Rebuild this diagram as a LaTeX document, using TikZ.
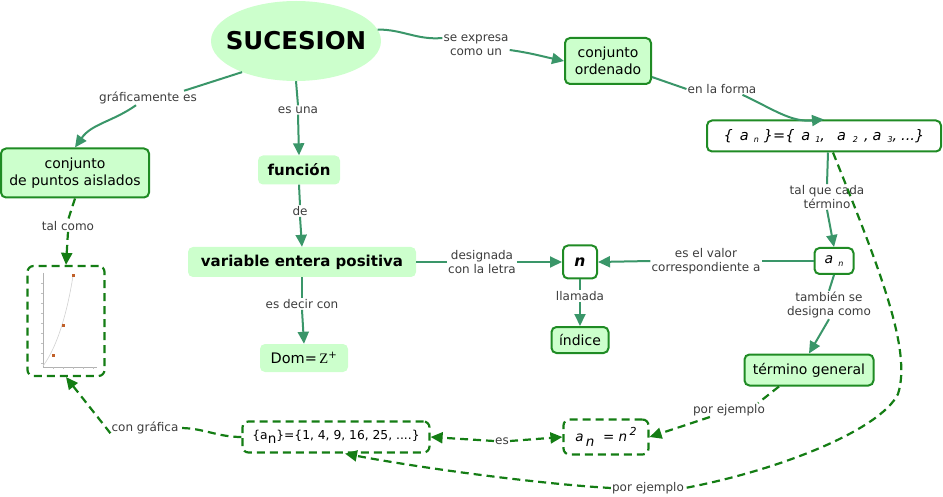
\documentclass[tikz,border=0pt]{standalone}
\usepackage{fontspec}
\setmainfont{DejaVu Sans}
\newfontfamily\serifz{Liberation Serif}
\usetikzlibrary{arrows.meta,shapes.geometric,calc}
\definecolor{lgreen}{HTML}{CCFFCC}
\definecolor{bgreen}{HTML}{1F8B24}
\definecolor{cgreen}{HTML}{3A9669}
\definecolor{dgreen}{HTML}{147D14}
\definecolor{lblc}{HTML}{3C3C3C}
\definecolor{ptc}{HTML}{C0602A}
\newcommand\sbs[1]{\raisebox{-0.35ex}{\fontsize{8}{8}\selectfont #1}}
\tikzset{
  concept/.style={rounded corners=5pt, fill=lgreen, align=center, inner sep=0pt,
    font=\fontsize{14}{17}\selectfont},
  bordered/.style={draw=bgreen, line width=2pt},
  whitebox/.style={concept, fill=white, draw=bgreen, line width=2pt},
  dashbox/.style={rounded corners=6pt, fill=white, draw=dgreen, line width=2.2pt,
    dash pattern=on 8pt off 5pt, align=center, inner sep=0pt},
  lbl/.style={font=\fontsize{12}{14}\selectfont, text=lblc, align=center, inner sep=1pt},
  conn/.style={draw=cgreen, line width=2pt},
  dconn/.style={draw=dgreen, line width=2.2pt, dash pattern=on 8pt off 5pt},
  arr/.style={-{Triangle[length=12pt,width=11pt]}},
  darr/.style={-{Triangle[length=12pt,width=11pt]}},
}
\begin{document}
\begin{tikzpicture}[x=1pt,y=-1pt]
\useasboundingbox (0,0) rectangle (943,497);
% concepts
\node[ellipse, fill=lgreen, minimum width=170, minimum height=80, inner sep=0pt,
  label={[font=\fontsize{24.5}{26}\selectfont\bfseries]center:SUCESION}] (suc) at (296,41) {};
\node[concept, bordered, minimum width=86, minimum height=46] (ord) at (608,61) {conjunto\\ordenado};
\node[whitebox, minimum width=234, minimum height=31, font=\fontsize{14.5}{16}\selectfont] (seq) at (824,136)
  {\itshape\{\hspace{7pt}a\hspace{5pt}\sbs{n}\hspace{5pt}\}=\{\hspace{7pt}a\hspace{5pt}\sbs{1},\hspace{12pt}a\hspace{7pt}\sbs{2}\hspace{6pt},\hspace{4pt}a\hspace{6pt}\sbs{3},\hspace{4pt}...\}};
\node[concept, bordered, minimum width=148, minimum height=49] (pts) at (75,173) {conjunto\\de puntos aislados};
\node[concept, minimum width=82, minimum height=29, font=\fontsize{15}{17}\selectfont\bfseries] (fun) at (299,170) {función};
\node[concept, minimum width=228, minimum height=30, font=\fontsize{15}{17}\selectfont\bfseries] (var) at (302,262) {variable entera positiva};
\node[whitebox, minimum width=34, minimum height=33, font=\fontsize{15.5}{17}\selectfont\bfseries\itshape] (nn) at (580,262) {n};
\node[whitebox, minimum width=39, minimum height=26, font=\fontsize{14}{16}\selectfont] (an) at (834,261) {\itshape a\hspace{5pt}\sbs{n}};
\node[concept, bordered, minimum width=57, minimum height=26] (ind) at (580,340) {índice};
\node[concept, minimum width=88, minimum height=28, font=\fontsize{14.5}{16}\selectfont] (dom) at (304,358) {Dom={\serifz\,Z}\textsuperscript{+}};
\node[concept, bordered, minimum width=129, minimum height=31] (tg) at (809,370) {término general};
\node[dashbox, minimum width=77, minimum height=110] (gr) at (66,321) {};
\node[dashbox, minimum width=187, minimum height=31, font=\fontsize{12.3}{14}\selectfont] (vals) at (336,437)
  {\{a\raisebox{-0.5ex}{\fontsize{13.5}{13.5}\selectfont n}\}=\{1, 4, 9, 16, 25, ....\}};
\node[dashbox, minimum width=85, minimum height=35, font=\fontsize{13.5}{15}\selectfont\itshape] (sq) at (606,437)
  {a\,\raisebox{-0.6ex}{n}\ \ = n\,\raisebox{0.8ex}{\fontsize{11}{11}\selectfont 2}};
% graph inside gr
\draw[gray!60, line width=0.5pt] (43,273) -- (43,367) -- (97,367);
\foreach \yy in {283,293,303,313,323,333,343,353,363} \draw[gray!50, line width=0.4pt] (41,\yy) -- (43,\yy);
\foreach \xx in {53,63,73,83,93} \draw[gray!50, line width=0.4pt] (\xx,367) -- (\xx,369);
\draw[gray!35, line width=0.6pt] (43,366) .. controls (55,350) and (66,320) .. (73,276);
\fill[ptc] (51.5,353.5) rectangle (54.5,356.5);
\fill[ptc] (61.5,323.5) rectangle (64.5,326.5);
\fill[ptc] (71.5,274.5) rectangle (74.5,277.5);
% labels
\node[lbl] (l1) at (476,45) {se expresa\\como un};
\node[lbl] (l2) at (722,89) {en la forma};
\node[lbl] (l3) at (148,98) {gráficamente es};
\node[lbl] (l4) at (298,110) {es una};
\node[lbl] (l5) at (300,211) {de};
\node[lbl] (l6) at (302,304) {es decir con};
\node[lbl] (l7) at (482,262) {designada\\con la letra};
\node[lbl] (l8) at (706,261) {es el valor\\correspondiente a};
\node[lbl] (l9) at (580,296) {llamada};
\node[lbl] (l10) at (827,197) {tal que cada\\término};
\node[lbl] (l11) at (829,305) {también se\\designa como};
\node[lbl] (l12) at (68,226) {tal como};
\node[lbl] (l13) at (729,410) {por ejemplo};
\node[lbl] (l14) at (648,488) {por ejemplo};
\node[lbl] (l15) at (502,441) {es};
\node[lbl] (l16) at (145,428) {con gráfica};
% solid connectors
\draw[conn] (suc.8) to[out=0,in=185] ($(l1.west)+(0,-7)$);
\draw[conn,arr] ($(l1.east)+(0,5)$) to[out=-8,in=168] (ord.west);
\draw[conn] (ord.-20) -- (l2.west);
\draw[conn,arr] ($(l2.south east)+(-15,0)$) to[out=-25,in=185] (seq.north);
\draw[conn] (suc.210) -- ($(l3.north east)+(-14,0)$);
\draw[conn,arr] ($(l3.south)+(-12,0)$) to[out=-145,in=55] (pts.north);
\draw[conn] (suc.south) -- (l4.north);
\draw[conn,arr] (l4.south) -- (fun.north);
\draw[conn] (fun.south) -- (l5.north);
\draw[conn,arr] (l5.south) -- (var.north);
\draw[conn] (var.south) -- (l6.north);
\draw[conn,arr] (l6.south) -- (dom.north);
\draw[conn] (var.east) -- (l7.west);
\draw[conn,arr] (l7.east) -- (nn.west);
\draw[conn] (an.west) -- (l8.east);
\draw[conn,arr] (l8.west) -- (nn.east);
\draw[conn] (nn.south) -- (l9.north);
\draw[conn,arr] (l9.south) -- (ind.north);
\draw[conn] ($(seq.south)+(4,0)$) -- (l10.north);
\draw[conn,arr] (l10.south) -- (an.north);
\draw[conn] (an.south) -- (l11.north);
\draw[conn,arr] (l11.south) -- (tg.north);
% dashed connectors
\draw[dconn] (pts.south) -- (l12.north);
\draw[dconn,darr] (l12.south) -- (gr.north);
\draw[dconn] ($(tg.south)+(-30,0)$) -- ($(l13.north east)+(-8,0)$);
\draw[dconn,darr] ($(l13.south west)+(18,0)$) -- (sq.east);
\draw[dconn] ($(seq.south)+(9,0)$) .. controls (880,270) and (912,350) .. (898,394)
  .. controls (880,430) and (780,470) .. (l14.east);
\draw[dconn,darr] (l14.west) .. controls (540,484) and (420,468) .. ($(vals.south)+(9,0)$);
\draw[dconn,darr] (l15.west) -- (vals.east);
\draw[dconn,darr] (l15.east) -- (sq.west);
\draw[dconn] (vals.west) to[out=180,in=0] (l16.east);
\draw[dconn,darr] ($(l16.south west)+(0,-2)$) -- (gr.south);
\end{tikzpicture}
\end{document}
